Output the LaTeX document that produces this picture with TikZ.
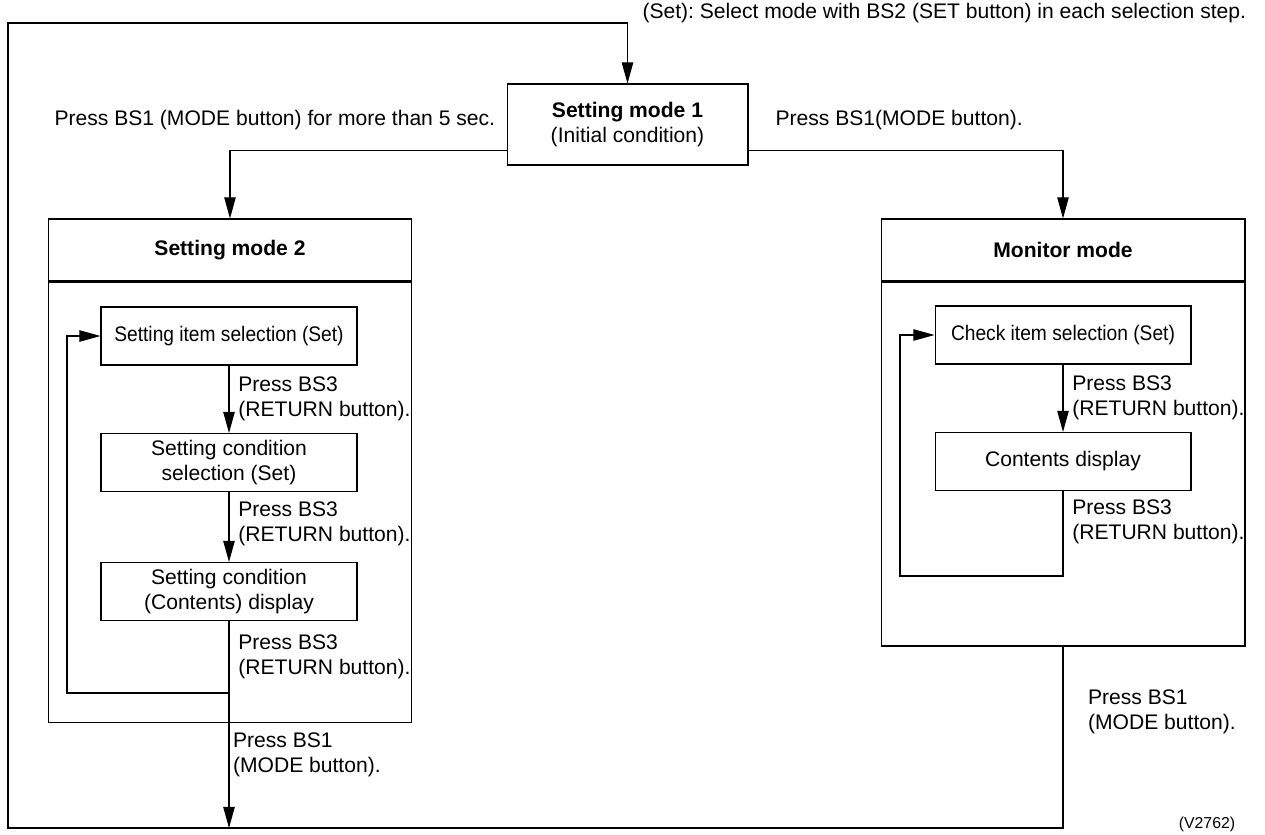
\documentclass[tikz,border=0pt]{standalone}
\usepackage{fontspec}
\setmainfont{Liberation Sans}
\usetikzlibrary{arrows.meta, calc}
\frenchspacing

\begin{document}
\begin{tikzpicture}[x=0.02cm, y=-0.02cm, line width=0.6pt,
    font=\fontsize{12}{14.2}\selectfont,
    arr/.style={-{Triangle[length=12pt, width=6.5pt]}},
    box/.style={draw, align=center, inner sep=0pt, minimum width=5.12cm, minimum height=1.16cm},
    head/.style={draw, inner sep=0pt, minimum width=7.28cm, minimum height=1.24cm, font=\fontsize{12}{14.2}\selectfont\bfseries},
    frame/.style={draw, inner sep=0pt, minimum width=7.28cm, anchor=north},
    lbl/.style={align=left, anchor=west, inner sep=0pt}]
    \useasboundingbox (0,0) rectangle (1265,835);

    % note and the two transitions out of mode 1
    \node[lbl] (note) at (642,13) {(Set): Select mode with BS2 (SET button) in each selection step.};
    \node[draw, align=center, inner sep=0pt, minimum width=4.82cm, minimum height=1.62cm] (sm1) at (627.5,124.5) {\textbf{Setting mode 1}\\(Initial condition)};
    \node[lbl] (lpress) at (54,120) {Press BS1 (MODE button) for more than 5 sec.};
    \node[lbl] (rpress) at (775,120) {Press BS1(MODE button).};

    % Setting mode 2
    \node[head] (sm2) at (230,250) {Setting mode 2};
    \node[frame, minimum height=8.82cm] (sm2body) at (sm2.south) {};
    \node[box] (item) at (229,336) {\scalebox{0.91}[1]{Setting item selection (Set)}};
    \node[box] (cond) at (229,462.5) {Setting condition\\selection (Set)};
    \node[box] (disp) at (229,591.5) {Setting condition\\(Contents) display};

    % Monitor mode
    \node[head] (mon) at (1063,250) {Monitor mode};
    \node[frame, minimum height=7.28cm] (monbody) at (mon.south) {};
    \node[box] (check) at (1063,335) {\scalebox{0.91}[1]{Check item selection (Set)}};
    \node[box] (cont) at (1063,461.5) {Contents display};

    \node[font=\fontsize{9}{11}\selectfont, inner sep=0pt] (code) at (1207,824) {(V2762)};

    % corners of the loops
    \coordinate (loopL) at (67,693);
    \coordinate (loopR) at (900,576);
    \coordinate (ll) at (8,828);
    \coordinate (ul) at (8,23);

    \draw[arr] ($(sm1.south west)+(0,-15)$) -| (sm2.north);
    \draw[arr] ($(sm1.south east)+(0,-15)$) -| (mon.north);

    % steps inside mode 2
    \draw[arr] (item) -- node[lbl, right=5pt] {Press BS3\\(RETURN button).} (cond);
    \draw[arr] (cond) -- node[lbl, right=5pt, yshift=2pt] {Press BS3\\(RETURN button).} (disp);
    \draw[arr] (disp.south) |- node[lbl, pos=0.25, right=5pt] {Press BS3\\(RETURN button).} (loopL) |- (item.west);
    \draw[arr] (disp.south |- loopL) -- node[lbl, right=2pt, yshift=3pt] {Press BS1\\(MODE button).} (disp.south |- ll);

    % steps inside monitor mode
    \draw[arr] (check) -- node[lbl, right=5pt] {Press BS3\\(RETURN button).} (cont);
    \draw[arr] (cont.south) |- node[lbl, pos=0.18, right=5pt] {Press BS3\\(RETURN button).} (loopR) |- (check.west);

    % back to mode 1
    \draw[arr] (monbody.south) -- node[lbl, pos=0.36, right=14pt] {Press BS1\\(MODE button).} (monbody.south |- ll) -- (ll) -- (ul) -| (sm1.north);
\end{tikzpicture}
\end{document}
